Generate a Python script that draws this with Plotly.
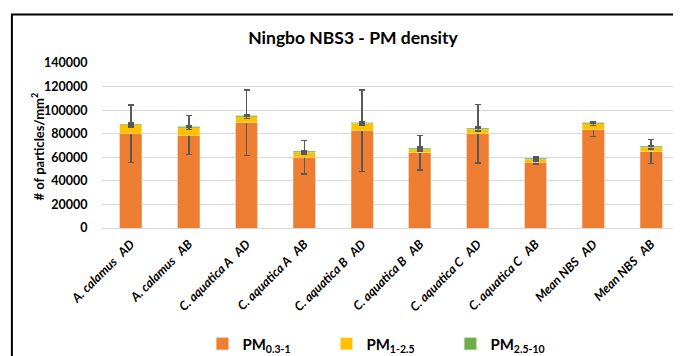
import plotly.graph_objects as go

categories = ["A. calamus\u00a0\u00a0\u00a0AD", "A. calamus\u00a0\u00a0\u00a0AB", "C. aquatica A\u00a0\u00a0\u00a0AD",
              "C. aquatica A\u00a0\u00a0\u00a0AB", "C. aquatica B\u00a0\u00a0\u00a0AD", "C. aquatica B\u00a0\u00a0\u00a0AB",
              "C. aquatica C\u00a0\u00a0\u00a0AD", "C. aquatica C\u00a0\u00a0\u00a0AB", "Mean NBS\u00a0\u00a0\u00a0AD",
              "Mean NBS\u00a0\u00a0\u00a0AB"]
pm_03_1 = [80000, 78900, 89400, 60200, 82600, 63900, 80000, 56000, 83200, 64800]
pm_1_25 = [7400, 6200, 5100, 4000, 6200, 3100, 4000, 2500, 5300, 3700]
pm_25_10 = [500, 900, 800, 800, 600, 600, 800, 600, 900, 1000]
err_03_1 = [24300, 16400, 27900, 14200, 34500, 14700, 24900, 1500, 5500, 10200]
err_1_25 = [1500, 1500, 1500, 1500, 1500, 1500, 1500, 1500, 1500, 1500]
err_25_10 = [500, 500, 500, 500, 500, 500, 500, 500, 500, 500]
y_ticks = [0, 20000, 40000, 60000, 80000, 100000, 120000, 140000]

FONT = "Lato, Open Sans, sans-serif"
OFF = 8  # page body margin
W, H = 681 - OFF, 356 - OFF
L, R, T, B = 101.6 - OFF, 679.6 - OFF, 63 - OFF, 228 - OFF


def px(x):
    return (x - OFF - L) / (R - L)


def py(y):
    return (B - (y - OFF)) / (B - T)


err_style = dict(type="data", color="#595959", thickness=1.6, width=3)

fig = go.Figure()
fig.add_trace(go.Bar(x=categories, y=pm_03_1, name="PM<sub>0.3-1</sub>",
                     marker=dict(color="#ED7D31", line=dict(color="#F4B183", width=0.6)),
                     error_y=dict(array=err_03_1, **err_style)))
fig.add_trace(go.Bar(x=categories, y=pm_1_25, name="PM<sub>1-2.5</sub>",
                     marker=dict(color="#FFC000", line=dict(color="#FFE699", width=0.6)),
                     error_y=dict(array=err_1_25, **err_style)))
fig.add_trace(go.Bar(x=categories, y=pm_25_10, name="PM<sub>2.5-10</sub>",
                     marker=dict(color="#70AD47", line=dict(color="#A9D18E", width=0.6)),
                     error_y=dict(array=err_25_10, **err_style)))

fig.update_layout(
    width=W, height=H,
    barmode="stack", bargap=0.62,
    plot_bgcolor="white", paper_bgcolor="white",
    margin=dict(l=L, r=W - R, t=T, b=H - B, pad=0, autoexpand=False),
    font=dict(family=FONT, color="#000000"),
    title=dict(text="<b>Ningbo NBS3 - PM density</b>", x=(353 - OFF) / W, xanchor="center",
               xref="container", y=1 - (38 - OFF) / H, yanchor="middle", yref="container",
               font=dict(size=17.5, family=FONT, color="#000")),
    xaxis=dict(tickangle=-45, tickfont=dict(size=12.5, family=FONT, style="italic", weight="bold"),
               showgrid=False, showline=True, linecolor="#D9D9D9", linewidth=1,
               ticks="outside", ticklen=3, tickcolor="rgba(0,0,0,0)", automargin=False),
    yaxis=dict(range=[0, 140000], tickvals=y_ticks, ticktext=[str(v) for v in y_ticks],
               tickfont=dict(size=12.5, family=FONT, weight="bold"),
               showgrid=True, gridcolor="#D9D9D9", gridwidth=1.2,
               zeroline=False, ticks="outside", ticklen=11, tickcolor="rgba(0,0,0,0)",
               automargin=False),
    legend=dict(orientation="h", x=px(202), xanchor="left",
                y=py(344), yanchor="middle",
                font=dict(size=15, family=FONT, weight="bold"),
                entrywidth=79, entrywidthmode="pixels", itemwidth=30,
                traceorder="normal", bgcolor="rgba(0,0,0,0)"),
    showlegend=True,
    annotations=[dict(text="<b># of particles/mm<sup>2</sup></b>", textangle=-90,
                      xref="paper", yref="paper", x=px(37), y=py(146),
                      xanchor="center", yanchor="middle", showarrow=False,
                      font=dict(size=13, family=FONT, color="#000"))],
    shapes=[dict(type="rect", xref="paper", yref="paper",
                 x0=px(11.5), x1=px(690), y0=py(370), y1=py(14.5),
                 line=dict(color="#000", width=2), fillcolor="rgba(0,0,0,0)", layer="above")],
)

fig.write_html("out.html")
